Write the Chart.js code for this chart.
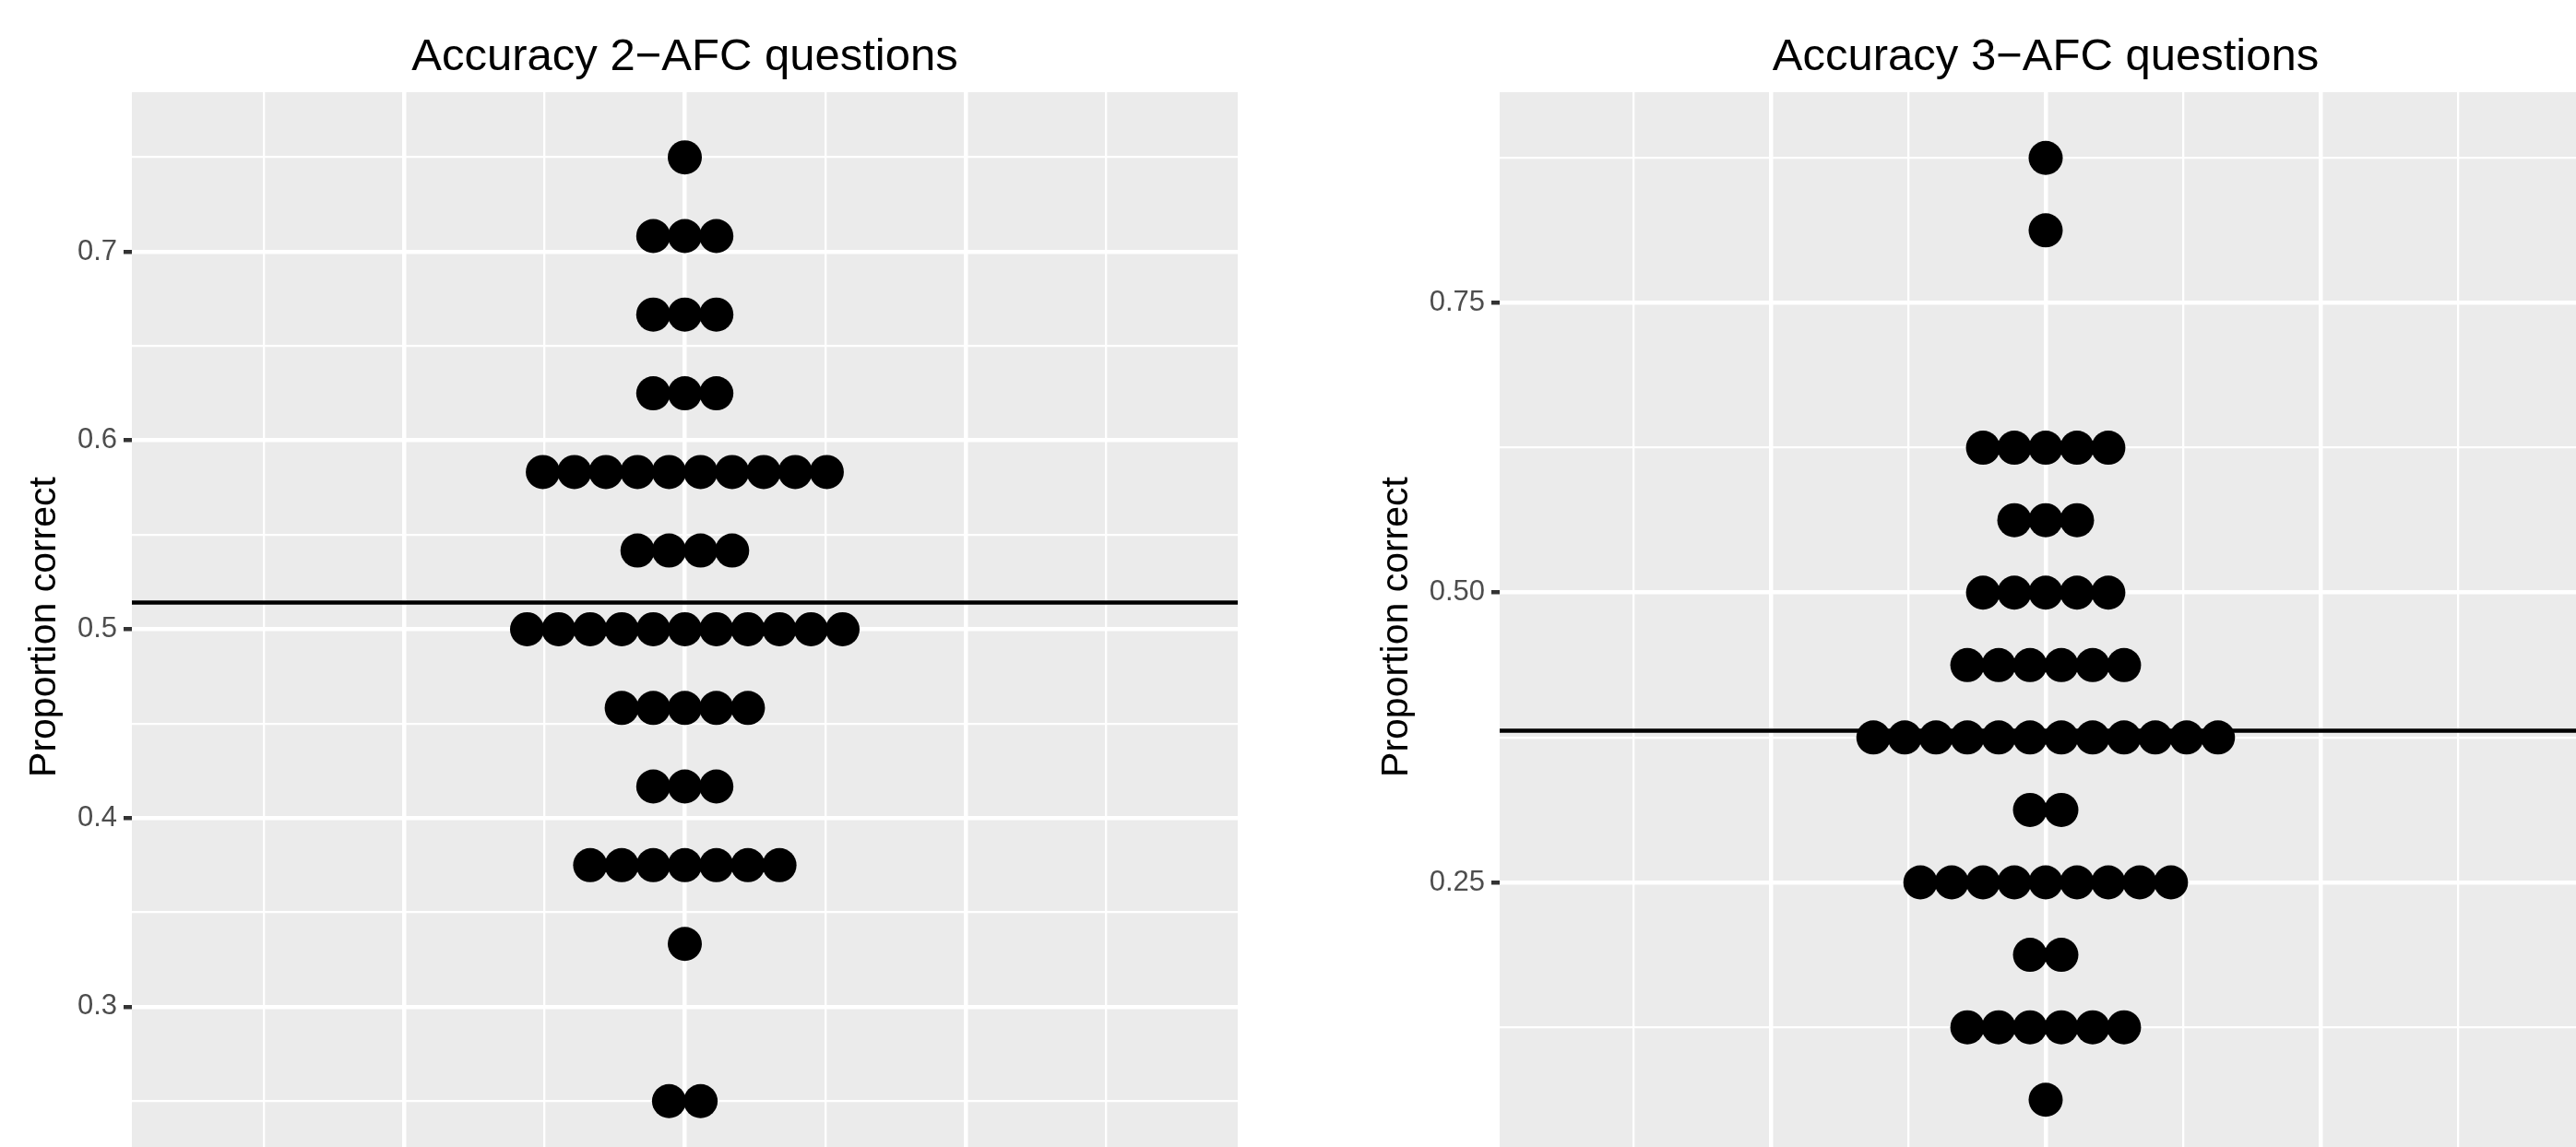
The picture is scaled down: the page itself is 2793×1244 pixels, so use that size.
<!DOCTYPE html>
<html>
<head>
<meta charset="utf-8">
<script src="https://cdn.jsdelivr.net/npm/chart.js@4"></script>
<style>
  html, body { margin: 0; padding: 0; background: #fff; overflow: hidden; }
  /* the panels run past the right and bottom edge of the picture */
  #wrap { position: relative; width: 2793px; height: 1244px; overflow: hidden; }
  canvas { position: absolute; top: 0; }
  #left { left: 0; }
  #right { left: 1397px; }
</style>
</head>
<body>
<div id="wrap">
  <canvas id="left" width="1397" height="1260"></canvas>
  <canvas id="right" width="1413" height="1260"></canvas>
</div>
<script>
const FONT = "'Liberation Sans', Arial, sans-serif";

// 2-AFC: proportion correct (out of 24) and how many people got each score
const afc2Levels = [0.75, 0.7083, 0.6667, 0.625, 0.5833, 0.5417, 0.5, 0.4583, 0.4167, 0.375, 0.3333, 0.25];
const afc2Counts = [1, 3, 3, 3, 10, 4, 11, 5, 3, 7, 1, 2];
const afc2MajorTicks = [0.3, 0.4, 0.5, 0.6, 0.7];
const afc2TickLabels = ['0.3', '0.4', '0.5', '0.6', '0.7'];
const afc2MinorTicks = [0.25, 0.35, 0.45, 0.55, 0.65, 0.75];

// 3-AFC: proportion correct (out of 16)
const afc3Levels = [0.875, 0.8125, 0.625, 0.5625, 0.5, 0.4375, 0.375, 0.3125, 0.25, 0.1875, 0.125, 0.0625];
const afc3Counts = [1, 1, 5, 3, 5, 6, 12, 2, 9, 2, 6, 1];
const afc3MajorTicks = [0.25, 0.5, 0.75];
const afc3TickLabels = ['0.25', '0.50', '0.75'];
const afc3MinorTicks = [0.125, 0.375, 0.625, 0.875];

// x axis is blank, only the grid shows
const xMajorTicks = [-1, 0, 1];
const xMinorTicks = [-1.5, -0.5, 0.5, 1.5];

const round4 = v => Math.round(v * 10000) / 10000;

// centre-stacked dots, one row per score
function stackDots(levels, counts, step) {
    const pts = [];
    levels.forEach((y, i) => {
        const n = counts[i];
        for (let j = 0; j < n; j++) {
            pts.push({ x: (j - (n - 1) / 2) * step, y: y });
        }
    });
    return pts;
}

function meanOf(levels, counts) {
    let sum = 0, n = 0;
    levels.forEach((v, i) => { sum += v * counts[i]; n += counts[i]; });
    return sum / n;
}

const panelBg = {
    id: 'panelBg',
    beforeDraw(chart) {
        const { ctx, chartArea: a } = chart;
        ctx.save();
        ctx.fillStyle = '#EBEBEB';
        ctx.fillRect(a.left, a.top, a.right - a.left, a.bottom - a.top);
        ctx.restore();
    }
};

function makeChart(id, cfg) {
    const majors = cfg.majors.map(round4);
    const isMajor = v => majors.includes(round4(v));
    const isXMajor = v => xMajorTicks.includes(round4(v));
    const m = meanOf(cfg.levels, cfg.counts);

    new Chart(document.getElementById(id), {
        type: 'scatter',
        data: {
            datasets: [{
                data: stackDots(cfg.levels, cfg.counts, cfg.step),
                backgroundColor: '#000000',
                borderWidth: 0,
                pointRadius: 18.5,
                pointHoverRadius: 18.5
            }, {
                type: 'line',
                data: [{ x: cfg.xMin, y: m }, { x: cfg.xMax, y: m }],
                borderColor: '#000000',
                borderWidth: 4.5,
                pointRadius: 0,
                fill: false
            }]
        },
        options: {
            responsive: false,
            animation: false,
            devicePixelRatio: 1,
            layout: {
                autoPadding: false,
                padding: { left: 0, right: cfg.padRight, top: 0, bottom: 0 }
            },
            plugins: {
                legend: { display: false },
                tooltip: { enabled: false },
                title: {
                    display: true,
                    text: cfg.title,
                    fullSize: false,
                    color: '#000000',
                    font: { family: FONT, size: 49, weight: 'normal' },
                    padding: { top: 33, bottom: 8.2 }
                }
            },
            scales: {
                x: {
                    type: 'linear',
                    min: cfg.xMin,
                    max: cfg.xMax,
                    afterBuildTicks: s => {
                        s.ticks = xMinorTicks.concat(xMajorTicks).sort((a, b) => a - b).map(v => ({ value: v }));
                    },
                    afterFit: s => {
                        s.height = 0;
                        s.paddingLeft = 0;
                        s.paddingRight = 0;
                    },
                    ticks: { display: false },
                    grid: {
                        color: '#FFFFFF',
                        lineWidth: c => isXMajor(c.tick.value) ? 4.5 : 2.3,
                        drawTicks: false
                    },
                    border: { display: false }
                },
                y: {
                    type: 'linear',
                    min: cfg.yMin,
                    max: cfg.yMax,
                    afterBuildTicks: s => {
                        s.ticks = cfg.minors.concat(cfg.majors).sort((a, b) => a - b).map(v => ({ value: v }));
                    },
                    afterFit: s => {
                        s.width = cfg.axisWidth;
                        s.paddingTop = 0;
                        s.paddingBottom = 0;
                    },
                    title: {
                        display: true,
                        text: 'Proportion correct',
                        color: '#000000',
                        font: { family: FONT, size: 41 },
                        padding: { top: cfg.titlePad, bottom: 0 }
                    },
                    ticks: {
                        autoSkip: false,
                        color: '#4D4D4D',
                        font: { family: FONT, size: 31 },
                        padding: 7,
                        callback: v => {
                            const i = majors.indexOf(round4(v));
                            return i >= 0 ? cfg.labels[i] : '';
                        }
                    },
                    grid: {
                        color: '#FFFFFF',
                        lineWidth: c => isMajor(c.tick.value) ? 4.5 : 2.3,
                        tickLength: 9,
                        tickWidth: 4.5,
                        tickColor: c => isMajor(c.tick.value) ? '#333333' : 'rgba(0,0,0,0)'
                    },
                    border: { display: false }
                }
            }
        },
        plugins: [panelBg]
    });
}

makeChart('left', {
    title: 'Accuracy 2\u2212AFC questions',
    levels: afc2Levels, counts: afc2Counts,
    majors: afc2MajorTicks, minors: afc2MinorTicks, labels: afc2TickLabels,
    yMin: 0.2179, yMax: 0.7845,
    xMin: -1.97, xMax: 1.97,
    step: 0.1124,
    axisWidth: 143, titlePad: 24, padRight: 55
});

makeChart('right', {
    title: 'Accuracy 3\u2212AFC questions',
    levels: afc3Levels, counts: afc3Counts,
    majors: afc3MajorTicks, minors: afc3MinorTicks, labels: afc3TickLabels,
    yMin: 0.0090, yMax: 0.9317,
    xMin: -1.987, xMax: 1.987,
    step: 0.114,
    axisWidth: 229, titlePad: 93, padRight: 0
});
</script>
</body>
</html>
